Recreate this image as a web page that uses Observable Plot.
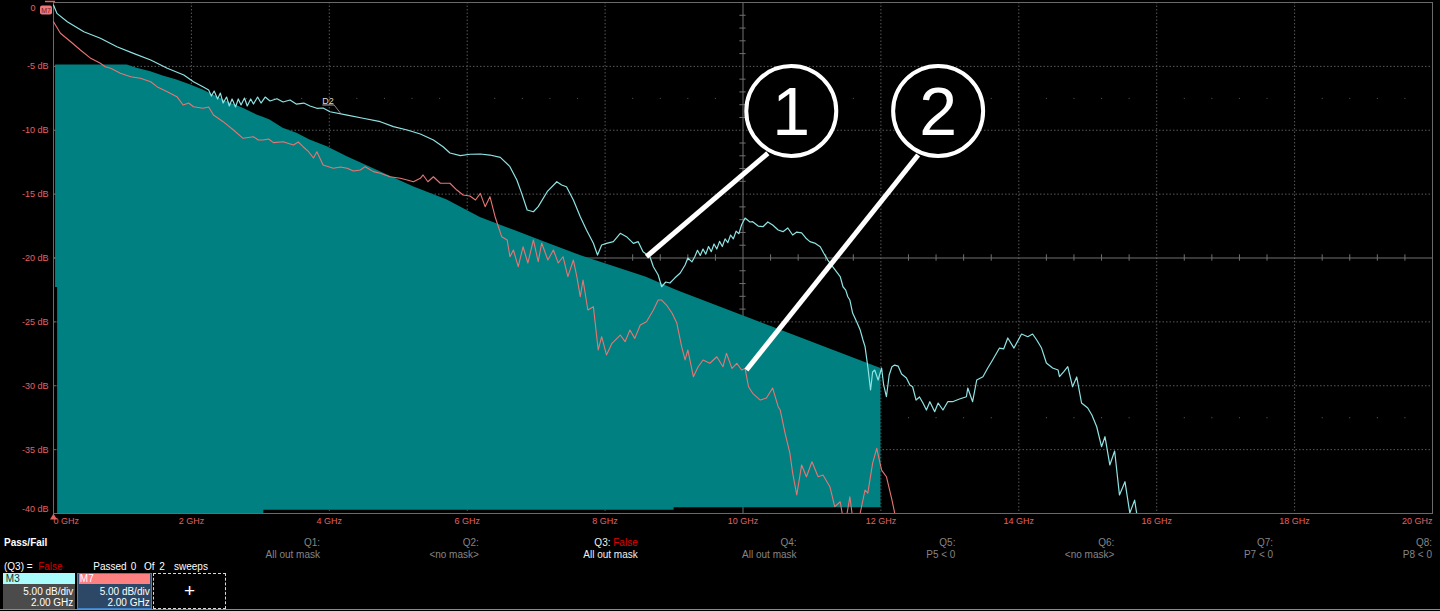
<!DOCTYPE html>
<html><head><meta charset="utf-8">
<script src="https://cdn.jsdelivr.net/npm/d3@7"></script>
<script src="https://cdn.jsdelivr.net/npm/@observablehq/plot@0.6"></script>
<style>
html,body{margin:0;padding:0;background:#000;width:1440px;height:611px;overflow:hidden;font-family:"Liberation Sans",Arial,sans-serif;}
#chart svg{display:block}
#panel{position:relative;width:1440px;height:81px;color:#fff;font-size:10px;}
#panel .t{position:absolute;white-space:pre;line-height:10px;}
#panel .box{position:absolute;box-sizing:border-box;}
</style>
</head><body>
<div id="chart"></div>
<div id="panel"></div>
<script>
// ---------- data ----------
const xTickValues = [0, 2, 4, 6, 8, 10, 12, 14, 16, 18, 20];
const xTickLabels = ["0 GHz","2 GHz","4 GHz","6 GHz","8 GHz","10 GHz","12 GHz","14 GHz","16 GHz","18 GHz","20 GHz"];
const yTickValues = [0, -5, -10, -15, -20, -25, -30, -35, -40];
const yTickLabels = ["0","-5 dB","-10 dB","-15 dB","-20 dB","-25 dB","-30 dB","-35 dB","-40 dB"];

// mask: [GHz, upper dB, lower dB]
const maskEdge = [
 [0.03,-4.9,-22.3],[0.06,-4.9,-22.3],[0.06,-4.9,-40],[1.07,-4.9,-40],[1.21,-5.15,-40],[1.41,-5.42,-40],
 [1.59,-5.75,-40],[1.79,-6.07,-40],[1.99,-6.46,-40],[2.17,-6.85,-40],[2.37,-7.37,-40],[2.57,-7.89,-40],
 [2.75,-8.28,-40],[2.95,-8.81,-40],[3.05,-9.0,-40],[3.05,-9.0,-39.75],[3.14,-9.2,-39.75],[3.33,-9.85,-39.75],
 [3.53,-10.24,-39.75],[3.72,-10.76,-39.75],[3.97,-11.29,-39.75],[4.26,-12.07,-39.75],[4.74,-13.24,-39.75],
 [5.22,-14.42,-39.75],[5.71,-15.46,-39.75],[6.19,-16.83,-39.75],[6.67,-17.81,-39.75],[7.16,-18.83,-39.75],
 [7.64,-19.8,-39.75],[8.6,-21.5,-39.75],[9.0,-22.45,-39.75],[9.0,-22.45,-39.55],[9.09,-22.64,-39.55],
 [10.54,-25.64,-39.55],[12.0,-28.64,-39.55]
];

// M3 trace (cyan): [GHz, dB]
const m3Trace = [
 [0.00,-0.20],[0.05,-0.85],[0.20,-1.50],[0.44,-2.29],[0.68,-2.80],[0.92,-3.46],[1.16,-3.98],[1.41,-4.50],
 [1.65,-5.15],[1.89,-5.68],[2.03,-6.20],[2.18,-6.64],[2.25,-6.85],[2.29,-7.32],[2.33,-6.93],[2.38,-7.55],
 [2.42,-7.09],[2.46,-7.87],[2.51,-7.40],[2.55,-8.10],[2.59,-7.55],[2.64,-8.18],[2.68,-7.55],[2.72,-8.02],
 [2.77,-7.48],[2.81,-8.10],[2.86,-7.55],[2.90,-7.95],[2.96,-7.40],[3.01,-7.87],[3.07,-7.40],[3.14,-7.71],
 [3.24,-7.53],[3.33,-7.79],[3.43,-7.63],[3.52,-7.95],[3.63,-7.87],[3.72,-8.10],[3.82,-8.28],[3.91,-8.26],
 [4.01,-8.55],[4.26,-8.81],[4.49,-9.06],[4.74,-9.33],[4.93,-9.72],[5.13,-9.98],[5.32,-10.29],[5.51,-10.76],
 [5.65,-11.29],[5.75,-11.78],[5.90,-11.99],[6.04,-11.88],[6.19,-11.86],[6.33,-11.94],[6.48,-12.12],[6.62,-12.85],
 [6.72,-13.89],[6.79,-14.94],[6.87,-16.24],[6.96,-16.38],[7.03,-15.98],[7.16,-14.81],[7.30,-14.03],[7.37,-14.29],
 [7.44,-14.42],[7.54,-15.46],[7.64,-16.77],[7.73,-17.81],[7.83,-18.85],[7.89,-19.77],[7.95,-18.98],[8.02,-18.85],
 [8.12,-18.72],[8.22,-18.07],[8.31,-18.33],[8.41,-18.85],[8.48,-18.72],[8.55,-19.51],[8.65,-19.90],[8.70,-20.68],
 [8.77,-21.33],[8.82,-22.25],[8.88,-21.88],[8.94,-21.96],[9.01,-21.57],[9.09,-21.17],[9.16,-20.55],[9.20,-20.00],
 [9.26,-20.3],[9.30,-19.9],[9.34,-19.4],[9.38,-19.8],[9.42,-19.3],[9.46,-19.7],[9.50,-19.1],[9.54,-19.5],
 [9.58,-18.9],[9.62,-19.3],[9.66,-18.7],[9.70,-19.1],[9.74,-18.5],[9.78,-18.8],[9.82,-18.2],[9.86,-18.5],
 [9.90,-17.9],[9.94,-18.1],[9.98,-17.4],[10.03,-16.87],[10.10,-17.18],[10.14,-17.16],[10.22,-17.50],[10.29,-17.55],
 [10.36,-17.18],[10.43,-17.42],[10.51,-17.81],[10.58,-17.94],[10.65,-17.65],[10.72,-18.20],[10.78,-17.97],[10.85,-18.04],
 [10.91,-18.43],[10.97,-18.72],[11.04,-18.83],[11.12,-19.12],[11.17,-19.61],[11.23,-20.16],[11.30,-20.68],[11.41,-21.46],
 [11.45,-22.25],[11.49,-22.51],[11.52,-23.03],[11.55,-23.29],[11.59,-24.31],[11.65,-25.01],[11.70,-25.64],[11.74,-26.42],
 [11.77,-26.94],[11.81,-28.51],[11.85,-30.33],[11.88,-28.92],[11.91,-28.77],[11.96,-29.55],[12.01,-28.61],[12.04,-29.94],
 [12.08,-30.86],[12.12,-29.16],[12.16,-28.51],[12.20,-28.38],[12.25,-28.46],[12.30,-29.08],[12.37,-29.39],[12.42,-29.94],
 [12.46,-30.08],[12.51,-31.12],[12.56,-30.88],[12.61,-31.35],[12.66,-31.90],[12.71,-31.25],[12.78,-32.03],[12.83,-31.35],
 [12.90,-31.90],[12.97,-31.25],[13.04,-31.25],[13.14,-31.04],[13.24,-30.86],[13.26,-30.18],[13.33,-31.25],[13.39,-29.55],
 [13.48,-29.29],[13.55,-28.61],[13.62,-27.98],[13.72,-27.05],[13.78,-27.12],[13.84,-26.26],[13.93,-27.05],[14.04,-25.95],
 [14.13,-26.16],[14.20,-25.95],[14.26,-26.42],[14.33,-27.05],[14.40,-28.22],[14.49,-28.61],[14.57,-28.77],[14.59,-29.29],
 [14.65,-28.92],[14.71,-28.51],[14.78,-30.08],[14.84,-29.31],[14.91,-31.35],[15.00,-31.74],[15.06,-32.29],[15.13,-33.21],
 [15.20,-34.77],[15.25,-33.99],[15.32,-36.20],[15.39,-35.11],[15.46,-38.55],[15.54,-37.51],[15.61,-39.96],[15.68,-38.95],
 [15.72,-40.35],[15.78,-42.0]
];

// M7 trace (red): [GHz, dB]
const m7Trace = [
 [0.00,-1.50],[0.10,-2.41],[0.25,-3.07],[0.39,-3.72],[0.54,-4.37],[0.68,-4.76],[0.75,-5.03],[0.83,-5.15],
 [0.97,-5.54],[1.12,-5.81],[1.26,-5.93],[1.41,-6.20],[1.50,-6.59],[1.65,-6.98],[1.79,-7.37],[1.88,-8.02],
 [1.96,-7.87],[2.03,-8.16],[2.17,-8.28],[2.25,-8.18],[2.32,-8.81],[2.46,-9.33],[2.61,-9.98],[2.75,-10.63],
 [2.90,-10.51],[2.97,-10.76],[3.04,-10.76],[3.12,-10.69],[3.19,-10.97],[3.33,-10.90],[3.48,-11.15],[3.55,-10.92],
 [3.62,-11.29],[3.70,-11.68],[3.77,-12.17],[3.82,-11.68],[3.91,-12.72],[3.99,-12.85],[4.06,-12.98],[4.16,-12.88],
 [4.26,-12.98],[4.35,-13.19],[4.45,-13.11],[4.52,-12.85],[4.64,-13.24],[4.74,-13.37],[4.88,-13.64],[5.03,-13.76],
 [5.13,-13.89],[5.22,-14.03],[5.32,-13.76],[5.36,-13.50],[5.43,-14.03],[5.51,-13.64],[5.61,-14.15],[5.75,-14.15],
 [5.85,-14.68],[5.94,-15.07],[6.04,-15.15],[6.12,-15.46],[6.19,-14.94],[6.26,-15.98],[6.33,-15.20],[6.41,-16.87],
 [6.50,-18.33],[6.58,-18.59],[6.62,-19.90],[6.67,-19.37],[6.74,-20.68],[6.81,-19.12],[6.88,-20.39],[6.96,-18.59],
 [7.03,-20.29],[7.08,-18.83],[7.17,-20.16],[7.25,-19.37],[7.32,-20.39],[7.39,-19.90],[7.46,-21.46],[7.54,-20.16],
 [7.59,-21.46],[7.64,-23.03],[7.68,-21.72],[7.75,-24.07],[7.83,-23.81],[7.90,-27.20],[7.95,-26.16],[8.02,-27.59],
 [8.10,-26.68],[8.22,-26.03],[8.29,-26.55],[8.36,-25.64],[8.43,-26.29],[8.51,-25.25],[8.60,-24.99],[8.70,-24.07],
 [8.77,-23.29],[8.82,-23.29],[8.89,-23.68],[8.97,-24.31],[9.04,-25.09],[9.11,-26.94],[9.16,-27.98],[9.20,-27.20],
 [9.28,-29.29],[9.35,-28.51],[9.42,-27.98],[9.52,-28.24],[9.62,-27.73],[9.71,-28.51],[9.76,-27.46],[9.84,-28.64],
 [9.91,-28.24],[9.98,-28.77],[10.03,-28.64],[10.08,-30.08],[10.14,-30.59],[10.25,-31.12],[10.34,-30.96],[10.43,-30.18],
 [10.51,-31.64],[10.54,-31.90],[10.61,-33.70],[10.68,-35.27],[10.72,-36.83],[10.78,-38.55],[10.85,-36.20],[10.92,-37.12],
 [11.00,-35.95],[11.09,-37.12],[11.16,-36.99],[11.26,-37.90],[11.33,-39.47],[11.41,-39.08],[11.45,-40.35],[11.49,-40.6],
 [11.55,-38.69],[11.59,-40.35],[11.64,-40.5],[11.70,-39.96],[11.77,-38.16],[11.81,-38.40],[11.88,-36.05],[11.94,-34.90],
 [12.01,-36.60],[12.08,-37.12],[12.16,-38.94],[12.20,-39.96],[12.25,-41.3]
];

// callouts
const calloutLabels = ["1", "2"];
const calloutFreq = [10.70, 12.83];
const calloutLevel = [-8.49, -8.49];
const leaderFrom = [[10.36, -11.80], [12.54, -11.94]];
const leaderTo = [[8.60, -19.90], [10.05, -28.77]];
const markerLabel = ["D2"];
const markerPos = [[3.98, -7.72]];

// pass/fail panel
const qNames = ["Q1:","Q2:","Q3:","Q4:","Q5:","Q6:","Q7:","Q8:"];
const qConditions = ["All out mask","<no mask>","All out mask","All out mask","P5 < 0","<no mask>","P7 < 0","P8 < 0"];
const qResults = ["","","False","","","","",""];
const traceNames = ["M3","M7"];
const traceScale = ["5.00 dB/div","5.00 dB/div"];
const traceSpan = ["2.00 GHz","2.00 GHz"];

// ---------- chart ----------
const red = "#e36262";
const gridMajorX = xTickValues.filter(d => d > 0 && d < 20 && d !== 10);
const gridMajorY = yTickValues.filter(d => d < 0 && d > -40 && d !== -20);
const minorX = d3.range(0.4, 20, 0.4).filter(d => Math.abs(d/2 - Math.round(d/2)) > 0.01);
const minorY = d3.range(-39, 0, 1).filter(d => d % 5 !== 0);

const chart = Plot.plot({
  width: 1440, height: 530,
  marginLeft: 53, marginRight: 8, marginTop: 2, marginBottom: 17,
  x: {domain: [0, 20], axis: null},
  y: {domain: [-40, 0], axis: null},
  style: {background: "#000", fontFamily: "Liberation Sans, Arial, sans-serif"},
  marks: [
    Plot.ruleX(gridMajorX, {stroke: "#585858", strokeDasharray: "1.5,2"}),
    Plot.ruleY(gridMajorY, {stroke: "#585858", strokeDasharray: "1.5,2"}),
    Plot.dot(minorX.flatMap(f => [[f, -7.5], [f, -32.5]]), {x: d => d[0], y: d => d[1], r: 0.6, fill: "#555", stroke: null}),
    Plot.ruleX([10], {stroke: "#707070"}),
    Plot.ruleY([-20], {stroke: "#707070"}),
    Plot.ruleX(minorX, {y1: -20.25, y2: -19.75, stroke: "#707070"}),
    Plot.ruleY(minorY, {x1: 9.955, x2: 10.045, stroke: "#707070"}),
    Plot.areaY(maskEdge, {x: d => d[0], y1: d => d[2], y2: d => d[1], fill: "#008080"}),
    Plot.frame({stroke: "#6a6a6a"}),
    Plot.ruleY(yTickValues.slice(1, -1), {x1: 0, x2: 0.045, stroke: "#6a6a6a"}),
    Plot.line(m3Trace, {x: d => d[0], y: d => d[1], stroke: "#8fe3e3", strokeWidth: 1.2, clip: true}),
    Plot.line(m7Trace, {x: d => d[0], y: d => d[1], stroke: "#e87474", strokeWidth: 1.1, clip: true}),
    // D2 marker label
    Plot.text(markerPos, {x: d => d[0], y: d => d[1], text: (d, i) => markerLabel[i], fill: "#d8d8d8", fontSize: 9}),
    Plot.link(markerPos, {x1: d => d[0] - 0.08, y1: d => d[1] - 0.3, x2: d => d[0] + 0.09, y2: d => d[1] - 0.3, stroke: "#d8d8d8", strokeWidth: 0.8}),
    Plot.link(markerPos, {x1: d => d[0] + 0.09, y1: d => d[1] - 0.3, x2: d => d[0] + 0.19, y2: d => d[1] - 1.0, stroke: "#aaa", strokeWidth: 0.8}),
    // x labels
    Plot.text(xTickValues.slice(0, 1), {x: d => d, y: -40, text: (d, i) => xTickLabels[0], dy: 8, textAnchor: "start", fill: red, fontSize: 9}),
    Plot.text(xTickValues.slice(1, -1), {x: d => d, y: -40, text: (d, i) => xTickLabels[i + 1], dy: 8, fill: red, fontSize: 9}),
    Plot.text(xTickValues.slice(-1), {x: d => d, y: -40, text: d => xTickLabels[xTickLabels.length - 1], dy: 8, textAnchor: "end", fill: red, fontSize: 9}),
    // y labels
    Plot.text(yTickValues.slice(0, 1), {x: 0, y: d => d, text: d => yTickLabels[0], dx: -18, dy: 6, textAnchor: "end", fill: red, fontSize: 9}),
    Plot.text(yTickValues.slice(1, -1), {x: 0, y: d => d, text: (d, i) => yTickLabels[i + 1], dx: -5, textAnchor: "end", fill: red, fontSize: 9}),
    Plot.text(yTickValues.slice(-1), {x: 0, y: d => d, text: d => yTickLabels[yTickLabels.length - 1], dx: -5, dy: -4, textAnchor: "end", fill: red, fontSize: 9}),
    Plot.dot([0], {x: d => d, y: -40, dy: 4, symbol: "triangle", r: 2.6, fill: red, stroke: null}),
    // callouts
    Plot.link(leaderFrom, {x1: d => d[0], y1: d => d[1], x2: (d, i) => leaderTo[i][0], y2: (d, i) => leaderTo[i][1], stroke: "#fff", strokeWidth: 5}),
    Plot.dot(calloutLabels, {x: (d, i) => calloutFreq[i], y: (d, i) => calloutLevel[i], r: 45, stroke: "#fff", strokeWidth: 4, fill: "#000"}),
    Plot.text(calloutLabels, {x: (d, i) => calloutFreq[i], y: (d, i) => calloutLevel[i], text: d => d, fill: "#fff", fontSize: 68, dy: 2, fontFamily: "Liberation Sans, Arial, sans-serif"})
  ]
});
document.getElementById("chart").append(chart);

// M7 reference tag at top-left
(function () {
  const sx = chart.scale("x"), sy = chart.scale("y");
  const x0 = sx.apply(0), y0 = sy.apply(0);
  const g = d3.select(chart).append("g");
  g.append("line").attr("x1", x0 - 8).attr("x2", x0 + 2).attr("y1", y0 - 0.5).attr("y2", y0 - 0.5).attr("stroke", red).attr("stroke-width", 1.5);
  g.append("rect").attr("x", x0 - 13).attr("y", y0 + 3.5).attr("width", 12).attr("height", 9).attr("rx", 2).attr("fill", "#f07a7a");
  g.append("text").attr("x", x0 - 7).attr("y", y0 + 10.5).attr("text-anchor", "middle").attr("font-size", 7)
    .attr("font-family", "Liberation Sans, Arial, sans-serif").attr("fill", "#7a1414").text("M7");
})();

// ---------- pass/fail panel ----------
const panel = document.getElementById("panel");
function addText(txt, left, top, opts = {}) {
  const d = document.createElement("div");
  d.className = "t";
  d.style.left = left + "px"; d.style.top = top + "px";
  if (opts.width) { d.style.width = opts.width + "px"; d.style.textAlign = opts.align || "left"; }
  d.style.color = opts.color || "#fff";
  if (opts.bold) d.style.fontWeight = "bold";
  if (opts.size) { d.style.fontSize = opts.size + "px"; d.style.lineHeight = opts.size + "px"; }
  if (opts.html) d.innerHTML = txt; else d.textContent = txt;
  panel.append(d);
  return d;
}
addText("Pass/Fail", 4, 8.2, {bold: true});
qNames.forEach((q, i) => {
  const right = 320 + i * 158.86;
  const active = qResults[i] !== "";
  const col = active ? "#f0f0f0" : "#858585";
  if (active) addText(q + ' <span style="color:#e00000">' + qResults[i] + '</span>', right - 160, 8.2, {width: 160, align: "right", html: true, color: col});
  else addText(q, right - 160, 8.2, {width: 160, align: "right", color: col});
  addText(qConditions[i], right - 160, 19.8, {width: 160, align: "right", color: col});
});
addText('(Q3) =  <span style="color:#d00000">False</span>', 4, 31.5, {html: true});
addText("Passed", 93.3, 31.5);
addText("0", 130.7, 31.5);
addText("Of", 144, 31.5);
addText("2", 159.3, 31.5);
addText("sweeps", 174, 31.5);

const boxes = [
  {left: 3.3, head: "#a8fcfc", headText: "#2a2a2a", body: "#4b4b4b", border: null},
  {left: 77.3, head: "#ff8080", headText: "#ffffff", body: "#2c4866", border: "#3f82cc"}
];
traceNames.forEach((name, i) => {
  const b = boxes[i];
  const box = document.createElement("div");
  box.className = "box";
  box.style.cssText = `left:${b.left}px;top:42.7px;width:${i ? 74.4 : 72}px;height:36.6px;background:${b.body};` + (b.border ? `border:1.5px solid ${b.border};` : "");
  panel.append(box);
  const head = document.createElement("div");
  head.className = "box";
  head.style.cssText = `left:${b.left + (b.border ? 1.5 : 0)}px;top:${42.7 + (b.border ? 1.5 : 0)}px;width:${(i ? 74.4 : 72) - (b.border ? 3 : 0)}px;height:${b.border ? 10.2 : 11.6}px;background:${b.head};`;
  panel.append(head);
  addText(name, b.left + 2.5, 44, {color: b.headText});
  addText(traceScale[i], b.left, 57, {width: (i ? 74.4 : 72) - 2, align: "right"});
  addText(traceSpan[i], b.left, 68, {width: (i ? 74.4 : 72) - 2, align: "right"});
});
const plus = document.createElement("div");
plus.className = "box";
plus.style.cssText = "left:153.3px;top:42.7px;width:72.7px;height:36.6px;border:1px dashed #d8d8d8;color:#fff;font-size:19px;line-height:34px;text-align:center;";
plus.textContent = "+";
panel.append(plus);
const bottomLine = document.createElement("div");
bottomLine.className = "box";
bottomLine.style.cssText = "left:0;top:79.3px;width:1440px;height:1px;background:#8a8a8a;";
panel.append(bottomLine);
</script>
</body></html>
